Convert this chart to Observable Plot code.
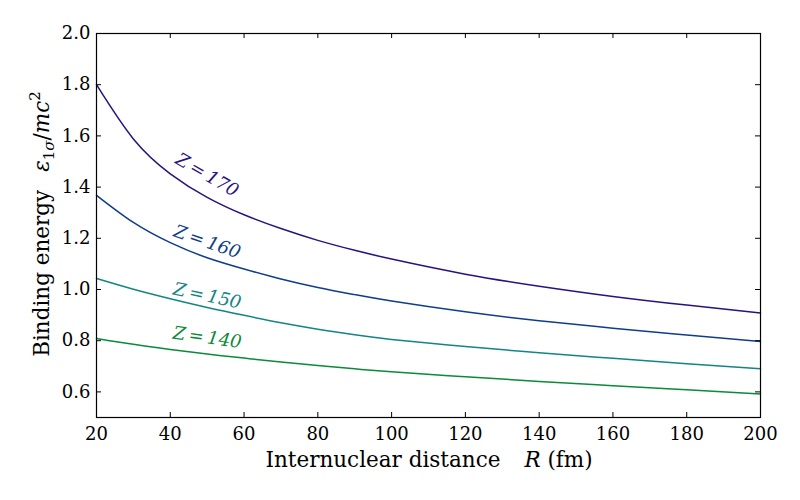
<!DOCTYPE html>
<html><head><meta charset="utf-8">
<script src="https://cdn.jsdelivr.net/npm/d3@7"></script>
<script src="https://cdn.jsdelivr.net/npm/@observablehq/plot@0.6"></script>
<style>body{margin:0;background:#fff} svg{display:block}</style>
</head><body><div id="chart"></div>
<script>
// Internuclear distance R (fm)
const R = [20, 30, 40, 50, 60, 70, 80, 90, 100, 120, 140, 160, 180, 200];
// Binding energy eps_1sigma / mc^2 for each Z
const E170 = [1.800, 1.588, 1.452, 1.360, 1.292, 1.238, 1.192, 1.153, 1.119, 1.060, 1.013, 0.973, 0.939, 0.908];
const E160 = [1.368, 1.262, 1.183, 1.124, 1.080, 1.041, 1.008, 0.980, 0.955, 0.913, 0.878, 0.849, 0.822, 0.797];
const E150 = [1.043, 1.001, 0.964, 0.930, 0.899, 0.870, 0.845, 0.823, 0.805, 0.777, 0.753, 0.731, 0.710, 0.690];
const E140 = [0.809, 0.786, 0.766, 0.748, 0.732, 0.717, 0.703, 0.690, 0.679, 0.659, 0.641, 0.624, 0.608, 0.592];
const Zs = [170, 160, 150, 140];
const colorList = ["#2a1180", "#0e3d8c", "#138585", "#0b8a3a"];
// inline labels
const labelR = [50, 50, 50, 50];
const labelE = [1.447, 1.186, 0.975, 0.812];
const labelAngle = [30, 19, 12, 8];
const xTicks = [20, 40, 60, 80, 100, 120, 140, 160, 180, 200];
const yTicks = [0.6, 0.8, 1.0, 1.2, 1.4, 1.6, 1.8, 2.0];

const seriesE = [E170, E160, E150, E140];
const data = Zs.flatMap((z, k) => R.map((r, i) => ({R: r, E: seriesE[k][i], Z: z})));
const labels = Zs.map((z, i) => ({Z: z, R: labelR[i], E: labelE[i], angle: labelAngle[i]}));

const W = 800, H = 500, mL = 96, mR = 40, mT = 33, mB = 83;
const innerW = W - mL - mR, innerH = H - mT - mB;
const font = "DejaVu Serif";

const chart = Plot.plot({
  width: W, height: H,
  marginLeft: mL, marginRight: mR, marginTop: mT, marginBottom: mB,
  style: {fontFamily: font, fontSize: "18px", background: "white", color: "black"},
  x: {domain: [20, 200]},
  y: {domain: [0.5, 2.0]},
  color: {type: "ordinal", domain: Zs, range: colorList},
  marks: [
    Plot.line(data, {x: "R", y: "E", z: "Z", stroke: "Z", strokeWidth: 1.5, curve: "natural"}),
    Plot.text(labels, {x: "R", y: "E", text: d => `Z\u2009=\u2009${d.Z}`, rotate: "angle", fill: "Z",
      fontSize: 18, fontStyle: "italic", fontFamily: font}),
    Plot.tickX(xTicks, {x: d => d, insetTop: innerH - 5, stroke: "black"}),
    Plot.tickX(xTicks, {x: d => d, insetBottom: innerH - 5, stroke: "black"}),
    Plot.tickY(yTicks, {y: d => d, insetRight: innerW - 5, stroke: "black"}),
    Plot.tickY(yTicks, {y: d => d, insetLeft: innerW - 5, stroke: "black"}),
    Plot.axisX(xTicks, {tickSize: 0, tickPadding: 10, fontSize: 18, label: null}),
    Plot.axisY(yTicks, {tickSize: 0, tickPadding: 6, fontSize: 18, label: null, tickFormat: d3.format(".1f")}),
    Plot.frame({stroke: "black", strokeWidth: 1.2})
  ]
});

const svg = d3.select(chart);
// y label
const yl = svg.append("text")
  .attr("transform", "translate(49,224) rotate(-90)")
  .attr("text-anchor", "middle").attr("font-size", 21.5).attr("font-family", font).attr("fill", "black");
yl.append("tspan").text("Binding energy");
yl.append("tspan").attr("font-style", "italic").attr("dx", 18).text("ε");
yl.append("tspan").attr("font-size", 15).attr("dy", 5).text("1");
yl.append("tspan").attr("font-size", 15).attr("font-style", "italic").text("σ");
yl.append("tspan").attr("dy", -5).text("/");
yl.append("tspan").attr("font-style", "italic").text("mc");
yl.append("tspan").attr("font-size", 15).attr("dy", -9).text("2");
// x label
const xl = svg.append("text")
  .attr("transform", "translate(429,467)")
  .attr("text-anchor", "middle").attr("font-size", 21.5).attr("font-family", font).attr("fill", "black");
xl.append("tspan").text("Internuclear distance");
xl.append("tspan").attr("font-style", "italic").attr("dx", 24).text("R");
xl.append("tspan").text("\u00a0(fm)");

document.getElementById("chart").appendChild(chart);
</script>
</body></html>
